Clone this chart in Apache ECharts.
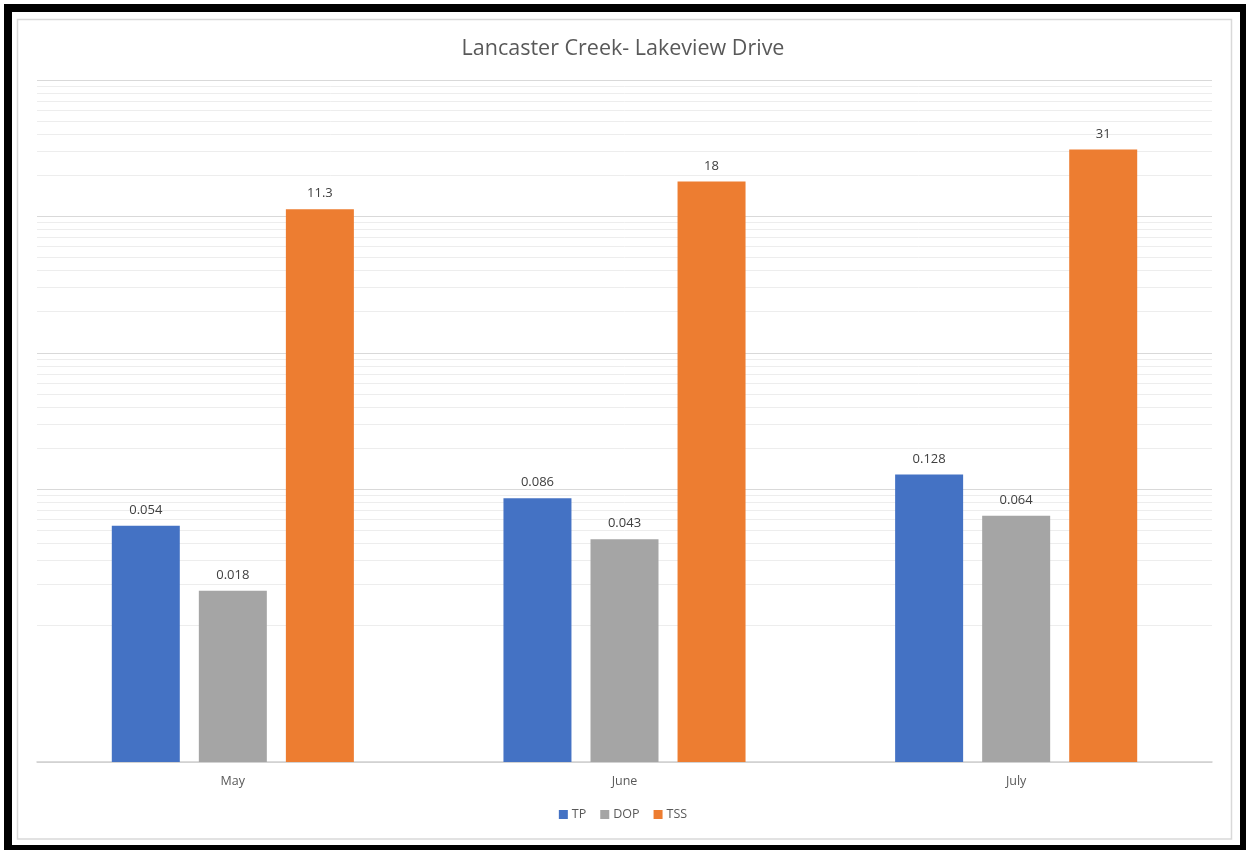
<!DOCTYPE html>
<html>
<head>
<meta charset="utf-8">
<script src="https://cdn.jsdelivr.net/npm/echarts@6/dist/echarts.min.js"></script>
<style>
  html, body { margin: 0; padding: 0; background: #ffffff; }
  #chart { width: 1246px; height: 850px; }
</style>
</head>
<body>
<div id="chart"></div>
<script>
// Sampling months and measured concentrations
const months = ['May', 'June', 'July'];
const tp = [0.054, 0.086, 0.128];
const dop = [0.018, 0.043, 0.064];
const tss = [11.3, 18, 31];

// Log axis decades and the 2..9 subdivisions drawn as faint gridlines
const decades = [0.001, 0.01, 0.1, 1, 10];
const minorSteps = [2, 3, 4, 5, 6, 7, 8, 9];
const minorLines = [];
decades.forEach(d => minorSteps.forEach(m => minorLines.push({ yAxis: +(d * m).toPrecision(3) })));

const FONT = '"Open Sans", "Noto Sans", sans-serif';
const labelStyle = {
  show: true, position: 'top', distance: 9,
  color: '#404040', fontSize: 13, fontFamily: FONT
};

const chart = echarts.init(document.getElementById('chart'), null, { renderer: 'canvas' });
chart.setOption({
  animation: false,
  backgroundColor: '#ffffff',
  title: {
    text: 'Lancaster Creek- Lakeview Drive',
    left: 'center', top: 33,
    textStyle: { color: '#595959', fontSize: 21.5, fontWeight: 'normal', fontFamily: FONT }
  },
  legend: {
    bottom: 24, left: 'center',
    itemWidth: 9, itemHeight: 9, itemGap: 14,
    icon: 'rect',
    textStyle: { color: '#595959', fontSize: 12.5, fontFamily: FONT, padding: [0, 0, 0, -1] },
    data: ['TP', 'DOP', 'TSS']
  },
  grid: { left: 37, right: 34, top: 80, bottom: 88, containLabel: false },
  xAxis: {
    type: 'category',
    data: months,
    axisTick: { show: false },
    axisLine: { lineStyle: { color: '#d0d0d0', width: 1.5 } },
    axisLabel: { color: '#595959', fontSize: 12.5, fontFamily: FONT, margin: 13 }
  },
  yAxis: {
    type: 'log', logBase: 10, min: 0.001, max: 100,
    startValue: 0.001,
    axisLabel: { show: false },
    axisLine: { show: false },
    axisTick: { show: false },
    splitLine: { show: true, lineStyle: { color: '#d9d9d9', width: 1.2 } }
  },
  series: [
    {
      name: 'TP', type: 'bar', data: tp,
      barWidth: 68, barGap: '28%',
      itemStyle: { color: '#4472C4' },
      label: labelStyle,
      markLine: {
        silent: true, z: 1, symbol: 'none',
        label: { show: false },
        lineStyle: { color: '#ededed', width: 1, type: 'solid' },
        emphasis: { disabled: true },
        data: minorLines
      }
    },
    {
      name: 'DOP', type: 'bar', data: dop,
      barWidth: 68, barGap: '28%',
      itemStyle: { color: '#A5A5A5' },
      label: labelStyle
    },
    {
      name: 'TSS', type: 'bar', data: tss,
      barWidth: 68, barGap: '28%',
      itemStyle: { color: '#ED7D31' },
      label: labelStyle
    }
  ],
  graphic: [
    {
      type: 'rect', silent: true, z: 100,
      shape: { x: 17.5, y: 19.5, width: 1214, height: 819.5 },
      style: { fill: null, stroke: '#d9d9d9', lineWidth: 1.5 }
    },
    {
      type: 'rect', silent: true, z: 101,
      shape: { x: 8, y: 8, width: 1236, height: 841 },
      style: { fill: null, stroke: '#000000', lineWidth: 8 }
    }
  ]
});
</script>
</body>
</html>
